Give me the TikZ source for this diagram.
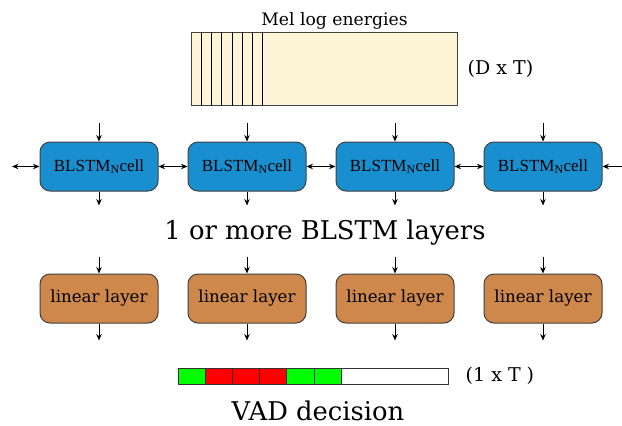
\documentclass[tikz,border=0pt]{standalone}
\usepackage{fontspec}
\setmainfont{DejaVu Serif}
\newfontfamily\cellfont{Liberation Serif}
\usepackage{xcolor}
\usetikzlibrary{arrows.meta, positioning}
\definecolor{CellBlue}{HTML}{1A8FCF}
\definecolor{LinOrange}{HTML}{CF884C}
\definecolor{MelCream}{HTML}{FDF5D6}
\definecolor{VadGreen}{HTML}{00FF00}
\definecolor{VadRed}{HTML}{FF0000}

\begin{document}
\begin{tikzpicture}[
    x=1pt, y=-1pt,
    >={Stealth[length=6.5pt,width=5.5pt]},
    cell/.style={
        draw=black!75,
        fill=CellBlue,
        line width=1pt,
        rounded corners=10pt,
        minimum width=118pt,
        minimum height=49pt,
        inner sep=2pt,
        font=\cellfont\fontsize{17}{20}\selectfont
    },
    linlayer/.style={
        cell,
        fill=LinOrange,
        font=\fontsize{16.7}{19}\selectfont
    },
    every edge/.style={
        draw=black,
        line width=0.9pt
    },
    vadcell/.style={
        draw=black!80,
        line width=0.9pt,
        minimum width=27.2pt,
        minimum height=16pt,
        inner sep=0pt,
        outer sep=0pt
    },
    caption/.style={font=\fontsize{25.8}{30}\selectfont, inner sep=1pt},
    dimlabel/.style={font=\fontsize{19}{22}\selectfont}
]
\useasboundingbox (0,0) rectangle (622,426);

% Input features
\node[draw=black!75, fill=MelCream, line width=0.9pt, minimum width=266pt,
      minimum height=73pt, inner sep=0pt] (mel) at (324.7,68.8) {};
\foreach \k in {1,...,7}
    \draw[line width=0.9pt] ([xshift=\k*10.2pt]mel.north west) -- ([xshift=\k*10.2pt]mel.south west);
\node[font=\fontsize{17.2}{20}\selectfont] (meltitle) at (334.5,20.5) {Mel log energies};
\node[dimlabel, right=6pt of mel] (melsize) {(D x T)};

% BLSTM cells
\node[cell] (c1) at (99,166.5) {BLSTM\textsubscript{N}cell};
\node[cell, right=29pt of c1] (c2) {BLSTM\textsubscript{N}cell};
\node[cell, right=29pt of c2] (c3) {BLSTM\textsubscript{N}cell};
\node[cell, right=29pt of c3] (c4) {BLSTM\textsubscript{N}cell};
\node[caption] (blstmcap) at (325,233) {1 or more BLSTM layers};

% Linear layers
\node[linlayer] (l1) at (99,298.5) {linear layer};
\node[linlayer, right=29pt of l1] (l2) {linear layer};
\node[linlayer, right=29pt of l2] (l3) {linear layer};
\node[linlayer, right=29pt of l3] (l4) {linear layer};

% Vertical flow
\foreach \i in {1,...,4} {
    \coordinate (cin\i) at ([yshift=19pt]c\i.north);
    \coordinate (cout\i) at ([yshift=-14pt]c\i.south);
    \coordinate (lin\i) at ([yshift=17pt]l\i.north);
    \coordinate (lout\i) at ([yshift=-17pt]l\i.south);
    \path (cin\i) edge[->] (c\i.north);
    \path (c\i.south) edge[->] (cout\i);
    \path (lin\i) edge[->] (l\i.north);
    \path (l\i.south) edge[->] (lout\i);
}

% Recurrent links
\coordinate (lend) at (12,166.5);
\coordinate (rend) at (622,166.5);
\path (lend) edge[<->] (c1);
\path (c1) edge[<->] (c2);
\path (c2) edge[<->] (c3);
\path (c3) edge[<->] (c4);
\path (rend) edge[->] (c4);

% VAD output
\node[vadcell, fill=VadGreen] (v1) at (191.6,376) {};
\node[vadcell, fill=VadRed, right=0pt of v1] (v2) {};
\node[vadcell, fill=VadRed, right=0pt of v2] (v3) {};
\node[vadcell, fill=VadRed, right=0pt of v3] (v4) {};
\node[vadcell, fill=VadGreen, right=0pt of v4] (v5) {};
\node[vadcell, fill=VadGreen, right=0pt of v5] (v6) {};
\node[vadcell, fill=white, minimum width=107pt, right=0pt of v6] (v7) {};
\node[dimlabel, right=14pt of v7] (vadsize) {(1 x T )};
\node[caption] (vadcap) at (318,411) {VAD decision};

\end{tikzpicture}
\end{document}
